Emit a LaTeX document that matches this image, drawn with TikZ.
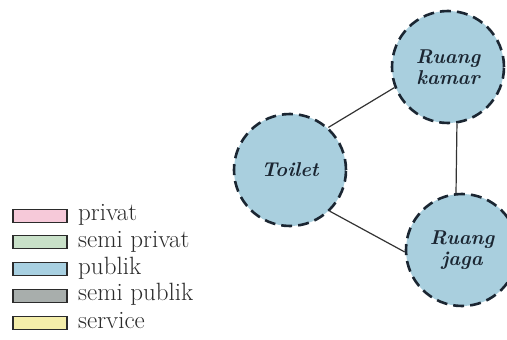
\documentclass[tikz,border=0pt]{standalone}
\usepackage{fontspec}
\usepackage{xcolor}
\definecolor{zonefill}{HTML}{A9CFDE}
\definecolor{inkdark}{HTML}{1B2632}
\definecolor{linegray}{HTML}{333333}
\definecolor{keyink}{HTML}{2B2B2B}
\definecolor{cprivat}{HTML}{F6C9D9}
\definecolor{csemiprivat}{HTML}{C9E1C9}
\definecolor{cpublik}{HTML}{A8D0E1}
\definecolor{csemipublik}{HTML}{A8AEAC}
\definecolor{cservice}{HTML}{F4EEAA}
\tikzset{
  room/.style={circle, draw=inkdark, fill=zonefill, line width=2.6pt,
    dash pattern=on 11pt off 6pt, minimum size=112pt, inner sep=0pt,
    align=center, text=inkdark, font=\fontsize{20}{21}\selectfont\bfseries\itshape},
  link/.style={draw=linegray, line width=1.2pt},
  keybox/.style={draw=keyink, line width=1.8pt, minimum width=54pt,
    minimum height=13pt, inner sep=0pt},
  keytext/.style={anchor=base west, inner sep=0pt, text=keyink,
    font=\fontsize{25}{27}\selectfont}
}
\begin{document}
\begin{tikzpicture}[x=1pt, y=-1pt]
  \useasboundingbox (0,0) rectangle (507,340);
  \begin{scope}
    \clip (0,0) rectangle (507,340);
    % rooms
    \node[room] (toilet) at (290,170) {Toilet};
    \node[room] (kamar) at (448,67) {Ruang\\kamar};
    \node[room] (jaga) at (462,250) {Ruang\\jaga};
  \end{scope}
  % relations
  \draw[link] (toilet.48) -- (kamar.201);
  \draw[link] (kamar.279) -- (jaga.96);
  \draw[link] (toilet.314) -- (jaga.182);
  % legend
  \node[keybox, fill=cprivat] (k1) at (40,216) {};
  \node[keybox, fill=csemiprivat] (k2) at (40,242) {};
  \node[keybox, fill=cpublik] (k3) at (40,269) {};
  \node[keybox, fill=csemipublik] (k4) at (40,296) {};
  \node[keybox, fill=cservice] (k5) at (40,323) {};
  \node[keytext] (t1) at (78,220) {privat};
  \node[keytext] (t2) at (78,247) {semi privat};
  \node[keytext] (t3) at (78,274) {publik};
  \node[keytext] (t4) at (78,300) {semi publik};
  \node[keytext] (t5) at (78,328) {service};
\end{tikzpicture}
\end{document}
